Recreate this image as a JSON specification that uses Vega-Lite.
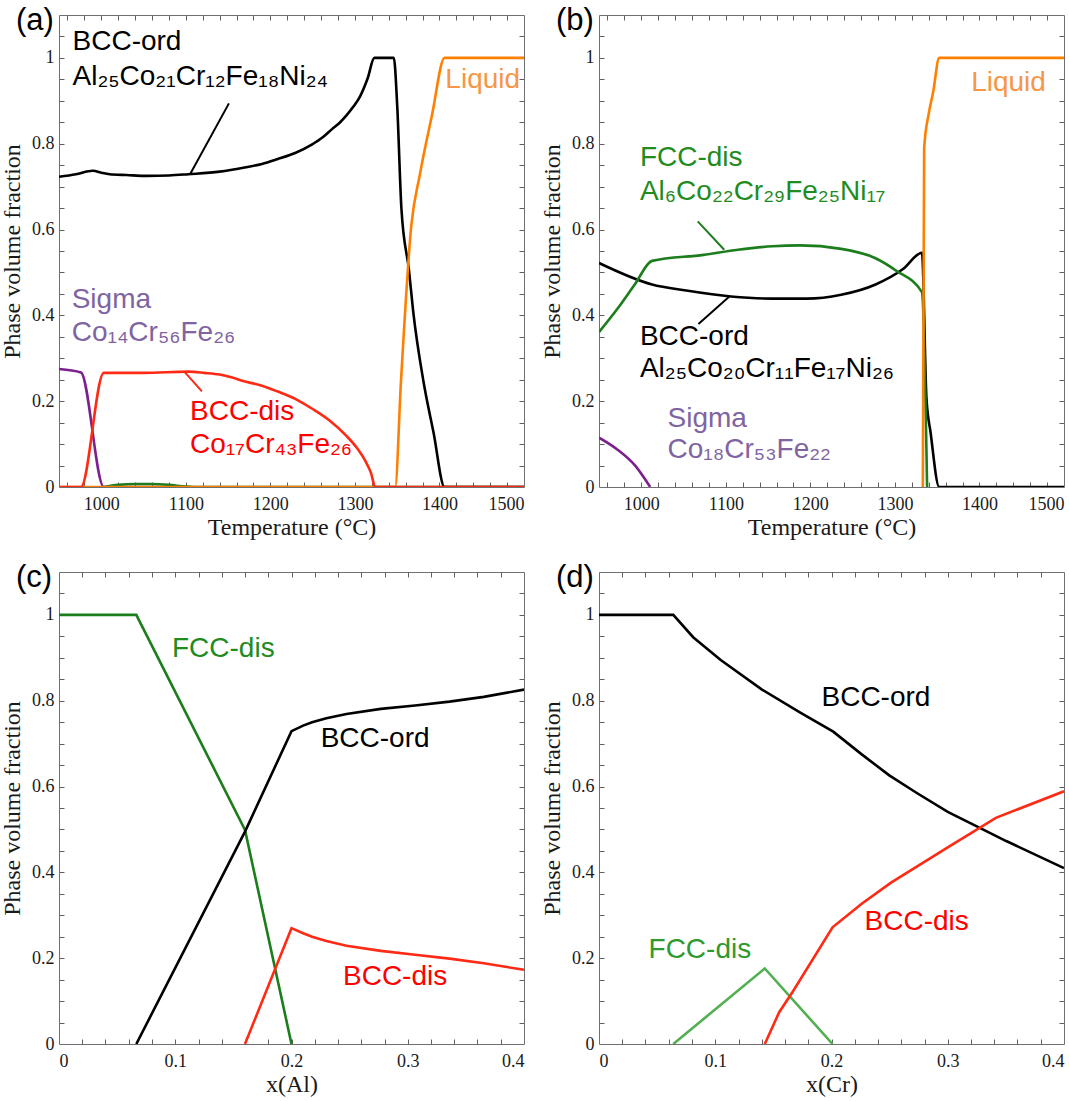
{
  "$schema": "https://vega.github.io/schema/vega-lite/v6.json",
  "background": "white",
  "padding": {"left": 0, "top": 4, "right": 0, "bottom": 0},
  "columns": 2,
  "spacing": {"row": 85, "column": 75},
  "bounds": "flush",
  "resolve": {"scale": {"color": "independent", "fill": "independent"}},
  "config": {
    "view": {"stroke": "#707070", "strokeWidth": 1},
    "axis": {"grid": false, "domain": false, "ticks": false, "tickColor": "#606060", "tickWidth": 1, "tickSize": 5,
      "labelFont": "Liberation Serif", "labelFontSize": 18, "labelColor": "#1a1a1a",
      "titleFont": "Liberation Serif", "titleFontSize": 24, "titleFontWeight": "normal", "titleColor": "#1a1a1a"},
    "axisBottom": {"labelPadding": 8, "titlePadding": 2},
    "axisLeft": {"labelPadding": 5, "titlePadding": 7},
    "title": {"font": "Liberation Sans", "fontSize": 31, "fontWeight": "normal", "anchor": "start", "frame": "group", "color": "#000000", "baseline": "alphabetic", "offset": -22, "dx": -43}
  },
  "datasets": {
    "a_lines": [
      {"phase": "Sigma", "x": 950, "v": 0.275}, {"phase": "Sigma", "x": 976, "v": 0.267}, {"phase": "Sigma", "x": 1003, "v": 0}, {"phase": "Sigma", "x": 1100, "v": 0},
      {"phase": "FCC-dis", "x": 1003, "v": 0}, {"phase": "FCC-dis", "x": 1020, "v": 0.005}, {"phase": "FCC-dis", "x": 1040, "v": 0.007}, {"phase": "FCC-dis", "x": 1060, "v": 0.007}, {"phase": "FCC-dis", "x": 1080, "v": 0.005}, {"phase": "FCC-dis", "x": 1100, "v": 0.001}, {"phase": "FCC-dis", "x": 1110, "v": 0}, {"phase": "FCC-dis", "x": 1500, "v": 0},
      {"phase": "BCC-ord", "x": 950, "v": 0.723}, {"phase": "BCC-ord", "x": 970, "v": 0.729}, {"phase": "BCC-ord", "x": 990, "v": 0.737}, {"phase": "BCC-ord", "x": 1001, "v": 0.732}, {"phase": "BCC-ord", "x": 1010, "v": 0.729}, {"phase": "BCC-ord", "x": 1030, "v": 0.727}, {"phase": "BCC-ord", "x": 1054, "v": 0.725}, {"phase": "BCC-ord", "x": 1080, "v": 0.726}, {"phase": "BCC-ord", "x": 1103, "v": 0.729}, {"phase": "BCC-ord", "x": 1140, "v": 0.735}, {"phase": "BCC-ord", "x": 1168, "v": 0.744}, {"phase": "BCC-ord", "x": 1190, "v": 0.753}, {"phase": "BCC-ord", "x": 1208, "v": 0.764}, {"phase": "BCC-ord", "x": 1230, "v": 0.779}, {"phase": "BCC-ord", "x": 1249, "v": 0.798}, {"phase": "BCC-ord", "x": 1262, "v": 0.815}, {"phase": "BCC-ord", "x": 1273, "v": 0.834}, {"phase": "BCC-ord", "x": 1282, "v": 0.849}, {"phase": "BCC-ord", "x": 1290, "v": 0.866}, {"phase": "BCC-ord", "x": 1298, "v": 0.886}, {"phase": "BCC-ord", "x": 1306, "v": 0.91}, {"phase": "BCC-ord", "x": 1315, "v": 0.952}, {"phase": "BCC-ord", "x": 1323, "v": 1.0}, {"phase": "BCC-ord", "x": 1346, "v": 1.0}, {"phase": "BCC-ord", "x": 1350, "v": 0.89}, {"phase": "BCC-ord", "x": 1355, "v": 0.649}, {"phase": "BCC-ord", "x": 1364, "v": 0.504}, {"phase": "BCC-ord", "x": 1369, "v": 0.408}, {"phase": "BCC-ord", "x": 1381, "v": 0.247}, {"phase": "BCC-ord", "x": 1393, "v": 0.127}, {"phase": "BCC-ord", "x": 1406, "v": 0}, {"phase": "BCC-ord", "x": 1500, "v": 0},
      {"phase": "Liquid", "x": 950, "v": 0}, {"phase": "Liquid", "x": 1347.6, "v": 0}, {"phase": "Liquid", "x": 1354.5, "v": 0.247}, {"phase": "Liquid", "x": 1366.7, "v": 0.609}, {"phase": "Liquid", "x": 1376.9, "v": 0.729}, {"phase": "Liquid", "x": 1391.1, "v": 0.866}, {"phase": "Liquid", "x": 1406.1, "v": 1.0}, {"phase": "Liquid", "x": 1500, "v": 1.0},
      {"phase": "BCC-dis", "x": 950, "v": 0}, {"phase": "BCC-dis", "x": 976, "v": 0}, {"phase": "BCC-dis", "x": 1003, "v": 0.266}, {"phase": "BCC-dis", "x": 1050, "v": 0.266}, {"phase": "BCC-dis", "x": 1103, "v": 0.269}, {"phase": "BCC-dis", "x": 1122, "v": 0.266}, {"phase": "BCC-dis", "x": 1140, "v": 0.262}, {"phase": "BCC-dis", "x": 1155, "v": 0.255}, {"phase": "BCC-dis", "x": 1168, "v": 0.247}, {"phase": "BCC-dis", "x": 1190, "v": 0.236}, {"phase": "BCC-dis", "x": 1208, "v": 0.223}, {"phase": "BCC-dis", "x": 1230, "v": 0.205}, {"phase": "BCC-dis", "x": 1249, "v": 0.183}, {"phase": "BCC-dis", "x": 1270, "v": 0.155}, {"phase": "BCC-dis", "x": 1290, "v": 0.119}, {"phase": "BCC-dis", "x": 1302, "v": 0.092}, {"phase": "BCC-dis", "x": 1312, "v": 0.062}, {"phase": "BCC-dis", "x": 1319, "v": 0.033}, {"phase": "BCC-dis", "x": 1324, "v": 0}, {"phase": "BCC-dis", "x": 1500, "v": 0}
    ],
    "a_text": [
      {"phase": "BCC-ord", "x": 966, "v": 1.018, "label": "BCC-ord"},
      {"phase": "BCC-ord", "x": 966, "v": 0.938, "label": "Al₂₅Co₂₁Cr₁₂Fe₁₈Ni₂₄"},
      {"phase": "Liquid", "x": 1407, "v": 0.93, "label": "Liquid"},
      {"phase": "Sigma", "x": 965, "v": 0.416, "label": "Sigma"},
      {"phase": "Sigma", "x": 965, "v": 0.34, "label": "Co₁₄Cr₅₆Fe₂₆"},
      {"phase": "BCC-dis", "x": 1105, "v": 0.155, "label": "BCC-dis"},
      {"phase": "BCC-dis", "x": 1105, "v": 0.079, "label": "Co₁₇Cr₄₃Fe₂₆"}
    ],
    "a_lead": [
      {"phase": "BCC-ord", "x": 1105, "v": 0.729, "x2": 1151, "v2": 0.894},
      {"phase": "BCC-dis", "x": 1099, "v": 0.267, "x2": 1119, "v2": 0.223}
    ],
    "b_lines": [
      {"phase": "Sigma", "x": 950, "v": 0.115}, {"phase": "Sigma", "x": 972, "v": 0.087}, {"phase": "Sigma", "x": 992.3, "v": 0.051}, {"phase": "Sigma", "x": 1010.6, "v": 0},
      {"phase": "BCC-ord", "x": 950, "v": 0.522}, {"phase": "BCC-ord", "x": 1012.7, "v": 0.472}, {"phase": "BCC-ord", "x": 1053.3, "v": 0.458}, {"phase": "BCC-ord", "x": 1106.2, "v": 0.444}, {"phase": "BCC-ord", "x": 1155, "v": 0.439}, {"phase": "BCC-ord", "x": 1195.7, "v": 0.439}, {"phase": "BCC-ord", "x": 1236.4, "v": 0.448}, {"phase": "BCC-ord", "x": 1277.1, "v": 0.472}, {"phase": "BCC-ord", "x": 1309.6, "v": 0.508}, {"phase": "BCC-ord", "x": 1332, "v": 0.546}, {"phase": "BCC-ord", "x": 1337.3, "v": 0.207}, {"phase": "BCC-ord", "x": 1342.2, "v": 0.127}, {"phase": "BCC-ord", "x": 1352.4, "v": 0}, {"phase": "BCC-ord", "x": 1500, "v": 0},
      {"phase": "FCC-dis", "x": 950, "v": 0.361}, {"phase": "FCC-dis", "x": 972, "v": 0.416}, {"phase": "FCC-dis", "x": 992.3, "v": 0.472}, {"phase": "FCC-dis", "x": 1012.7, "v": 0.527}, {"phase": "FCC-dis", "x": 1073.7, "v": 0.541}, {"phase": "FCC-dis", "x": 1114.4, "v": 0.553}, {"phase": "FCC-dis", "x": 1155, "v": 0.561}, {"phase": "FCC-dis", "x": 1187.6, "v": 0.563}, {"phase": "FCC-dis", "x": 1236.4, "v": 0.555}, {"phase": "FCC-dis", "x": 1277.1, "v": 0.533}, {"phase": "FCC-dis", "x": 1301.5, "v": 0.504}, {"phase": "FCC-dis", "x": 1332, "v": 0.454}, {"phase": "FCC-dis", "x": 1338.1, "v": 0},
      {"phase": "Liquid", "x": 1333, "v": 0}, {"phase": "Liquid", "x": 1334.6, "v": 0.79}, {"phase": "Liquid", "x": 1340, "v": 0.87}, {"phase": "Liquid", "x": 1345.2, "v": 0.92}, {"phase": "Liquid", "x": 1352.4, "v": 1.0}, {"phase": "Liquid", "x": 1500, "v": 1.0}
    ],
    "b_text": [
      {"phase": "FCC-dis", "x": 998.4, "v": 0.747, "label": "FCC-dis"},
      {"phase": "FCC-dis", "x": 998.4, "v": 0.669, "label": "Al₆Co₂₂Cr₂₉Fe₂₅Ni₁₇"},
      {"phase": "BCC-ord", "x": 998.4, "v": 0.332, "label": "BCC-ord"},
      {"phase": "BCC-ord", "x": 998.4, "v": 0.257, "label": "Al₂₅Co₂₀Cr₁₁Fe₁₇Ni₂₆"},
      {"phase": "Sigma", "x": 1031, "v": 0.139, "label": "Sigma"},
      {"phase": "Sigma", "x": 1031, "v": 0.067, "label": "Co₁₈Cr₅₃Fe₂₂"},
      {"phase": "Liquid", "x": 1390.2, "v": 0.922, "label": "Liquid"}
    ],
    "b_lead": [
      {"phase": "FCC-dis", "x": 1066.8, "v": 0.619, "x2": 1098.1, "v2": 0.553},
      {"phase": "BCC-ord", "x": 1104.2, "v": 0.444, "x2": 1067.6, "v2": 0.38}
    ],
    "c_lines": [
      {"phase": "FCC-dis", "x": 0, "v": 1}, {"phase": "FCC-dis", "x": 0.0665, "v": 1}, {"phase": "FCC-dis", "x": 0.16, "v": 0.499}, {"phase": "FCC-dis", "x": 0.2, "v": 0},
      {"phase": "BCC-ord", "x": 0.0665, "v": 0}, {"phase": "BCC-ord", "x": 0.16, "v": 0.495}, {"phase": "BCC-ord", "x": 0.2, "v": 0.729}, {"phase": "BCC-ord", "x": 0.21, "v": 0.742}, {"phase": "BCC-ord", "x": 0.2177, "v": 0.75}, {"phase": "BCC-ord", "x": 0.23, "v": 0.759}, {"phase": "BCC-ord", "x": 0.2473, "v": 0.769}, {"phase": "BCC-ord", "x": 0.2768, "v": 0.781}, {"phase": "BCC-ord", "x": 0.3063, "v": 0.789}, {"phase": "BCC-ord", "x": 0.3359, "v": 0.798}, {"phase": "BCC-ord", "x": 0.3654, "v": 0.809}, {"phase": "BCC-ord", "x": 0.4, "v": 0.826},
      {"phase": "BCC-dis", "x": 0.16, "v": 0}, {"phase": "BCC-dis", "x": 0.2, "v": 0.27}, {"phase": "BCC-dis", "x": 0.21, "v": 0.258}, {"phase": "BCC-dis", "x": 0.2177, "v": 0.25}, {"phase": "BCC-dis", "x": 0.23, "v": 0.24}, {"phase": "BCC-dis", "x": 0.2473, "v": 0.229}, {"phase": "BCC-dis", "x": 0.2768, "v": 0.217}, {"phase": "BCC-dis", "x": 0.3063, "v": 0.208}, {"phase": "BCC-dis", "x": 0.3359, "v": 0.199}, {"phase": "BCC-dis", "x": 0.3654, "v": 0.188}, {"phase": "BCC-dis", "x": 0.4, "v": 0.173}
    ],
    "c_text": [
      {"phase": "FCC-dis", "x": 0.0972, "v": 0.903, "label": "FCC-dis"},
      {"phase": "BCC-ord", "x": 0.2251, "v": 0.691, "label": "BCC-ord"},
      {"phase": "BCC-dis", "x": 0.2443, "v": 0.137, "label": "BCC-dis"}
    ],
    "d_lines": [
      {"phase": "FCC-dis", "x": 0.0639, "v": 0}, {"phase": "FCC-dis", "x": 0.1426, "v": 0.176}, {"phase": "FCC-dis", "x": 0.2009, "v": 0},
      {"phase": "BCC-ord", "x": 0, "v": 1}, {"phase": "BCC-ord", "x": 0.0639, "v": 1}, {"phase": "BCC-ord", "x": 0.081, "v": 0.948}, {"phase": "BCC-ord", "x": 0.1047, "v": 0.895}, {"phase": "BCC-ord", "x": 0.1402, "v": 0.826}, {"phase": "BCC-ord", "x": 0.1728, "v": 0.773}, {"phase": "BCC-ord", "x": 0.2015, "v": 0.728}, {"phase": "BCC-ord", "x": 0.226, "v": 0.675}, {"phase": "BCC-ord", "x": 0.2497, "v": 0.626}, {"phase": "BCC-ord", "x": 0.2734, "v": 0.585}, {"phase": "BCC-ord", "x": 0.3, "v": 0.541}, {"phase": "BCC-ord", "x": 0.331, "v": 0.499}, {"phase": "BCC-ord", "x": 0.3503, "v": 0.473}, {"phase": "BCC-ord", "x": 0.4, "v": 0.41},
      {"phase": "BCC-dis", "x": 0.1426, "v": 0}, {"phase": "BCC-dis", "x": 0.155, "v": 0.074}, {"phase": "BCC-dis", "x": 0.1669, "v": 0.123}, {"phase": "BCC-dis", "x": 0.2009, "v": 0.272}, {"phase": "BCC-dis", "x": 0.226, "v": 0.327}, {"phase": "BCC-dis", "x": 0.2512, "v": 0.376}, {"phase": "BCC-dis", "x": 0.3, "v": 0.458}, {"phase": "BCC-dis", "x": 0.3414, "v": 0.527}, {"phase": "BCC-dis", "x": 0.4, "v": 0.589}
    ],
    "d_text": [
      {"phase": "BCC-ord", "x": 0.1914, "v": 0.787, "label": "BCC-ord"},
      {"phase": "BCC-dis", "x": 0.2284, "v": 0.266, "label": "BCC-dis"},
      {"phase": "FCC-dis", "x": 0.0426, "v": 0.2, "label": "FCC-dis"}
    ]
  },
  "concat": [
    {
      "title": {"text": "(a)"},
      "width": 465, "height": 472,
      "resolve": {"axis": {"x": "independent", "y": "independent"}},
      "layer": [
        {
          "data": {"name": "a_lines"},
          "mark": {"type": "line", "strokeWidth": 2.6, "clip": true, "interpolate": "monotone"},
          "encoding": {
            "x": {"field": "x", "type": "quantitative", "scale": {"domain": [950, 1500], "nice": false, "zero": false},
              "axis": {"orient": "bottom", "title": "Temperature (°C)", "labelFlush": true, "values": [1000, 1100, 1200, 1300, 1400, 1500], "format": "d"}},
            "y": {"field": "v", "type": "quantitative", "scale": {"domain": [0, 1.1], "nice": false},
              "axis": {"orient": "left", "title": "Phase volume fraction", "values": [0, 0.2, 0.4, 0.6, 0.8, 1], "format": "~g"}},
            "color": {"field": "phase", "type": "nominal", "sort": null, "scale": {"domain": ["Sigma", "FCC-dis", "BCC-ord", "Liquid", "BCC-dis"], "range": ["#7d1f8e", "#1b7d1b", "#000000", "#ff8000", "#ff2a14"]}, "legend": null}
          }
        },
        {
          "data": {"name": "a_lead"},
          "mark": {"type": "rule", "strokeWidth": 2},
          "encoding": {
            "x": {"field": "x", "type": "quantitative", "axis": null}, "y": {"field": "v", "type": "quantitative", "axis": null},
            "x2": {"field": "x2"}, "y2": {"field": "v2"},
            "color": {"field": "phase", "type": "nominal", "legend": null}
          }
        },
        {
          "data": {"name": "a_text"},
          "mark": {"type": "text", "align": "left", "baseline": "alphabetic", "font": "Liberation Sans", "fontSize": 28},
          "encoding": {
            "x": {"field": "x", "type": "quantitative", "axis": null}, "y": {"field": "v", "type": "quantitative", "axis": null},
            "text": {"field": "label"},
            "fill": {"field": "phase", "type": "nominal", "scale": {"domain": ["BCC-ord", "Liquid", "Sigma", "BCC-dis"], "range": ["#000000", "#f79646", "#8064a2", "#ff0000"]}, "legend": null}
          }
        },
        {
          "data": {"name": "a_lines"},
          "mark": {"type": "point", "opacity": 0},
          "encoding": {
            "x": {"field": "x", "type": "quantitative", "axis": {"orient": "top", "offset": -472, "ticks": true, "labels": false, "title": null, "values": [960, 980, 1000, 1020, 1040, 1060, 1080, 1100, 1120, 1140, 1160, 1180, 1200, 1220, 1240, 1260, 1280, 1300, 1320, 1340, 1360, 1380, 1400, 1420, 1440, 1460, 1480]}},
            "y": {"field": "v", "type": "quantitative", "axis": {"orient": "right", "offset": -465, "ticks": true, "labels": false, "title": null, "values": [0.05, 0.1, 0.15, 0.2, 0.25, 0.3, 0.35, 0.4, 0.45, 0.5, 0.55, 0.6, 0.65, 0.7, 0.75, 0.8, 0.85, 0.9, 0.95, 1, 1.05]}}
          }
        },
        {
          "data": {"name": "a_lines"},
          "mark": {"type": "point", "opacity": 0},
          "encoding": {
            "x": {"field": "x", "type": "quantitative", "axis": {"orient": "bottom", "offset": -472, "ticks": true, "labels": false, "title": null, "values": [960, 980, 1000, 1020, 1040, 1060, 1080, 1100, 1120, 1140, 1160, 1180, 1200, 1220, 1240, 1260, 1280, 1300, 1320, 1340, 1360, 1380, 1400, 1420, 1440, 1460, 1480]}},
            "y": {"field": "v", "type": "quantitative", "axis": {"orient": "left", "offset": -465, "ticks": true, "labels": false, "title": null, "values": [0.05, 0.1, 0.15, 0.2, 0.25, 0.3, 0.35, 0.4, 0.45, 0.5, 0.55, 0.6, 0.65, 0.7, 0.75, 0.8, 0.85, 0.9, 0.95, 1, 1.05]}}
          }
        }
      ]
    },
    {
      "title": {"text": "(b)"},
      "width": 465, "height": 472,
      "resolve": {"axis": {"x": "independent", "y": "independent"}},
      "layer": [
        {
          "data": {"name": "b_lines"},
          "mark": {"type": "line", "strokeWidth": 2.6, "clip": true, "interpolate": "monotone"},
          "encoding": {
            "x": {"field": "x", "type": "quantitative", "scale": {"domain": [950, 1500], "nice": false, "zero": false},
              "axis": {"orient": "bottom", "title": "Temperature (°C)", "labelFlush": true, "values": [1000, 1100, 1200, 1300, 1400, 1500], "format": "d"}},
            "y": {"field": "v", "type": "quantitative", "scale": {"domain": [0, 1.1], "nice": false},
              "axis": {"orient": "left", "title": "Phase volume fraction", "values": [0, 0.2, 0.4, 0.6, 0.8, 1], "format": "~g"}},
            "color": {"field": "phase", "type": "nominal", "sort": null, "scale": {"domain": ["Sigma", "BCC-ord", "FCC-dis", "Liquid"], "range": ["#7d1f8e", "#000000", "#1b7d1b", "#ff8000"]}, "legend": null}
          }
        },
        {
          "data": {"name": "b_lead"},
          "mark": {"type": "rule", "strokeWidth": 2},
          "encoding": {
            "x": {"field": "x", "type": "quantitative", "axis": null}, "y": {"field": "v", "type": "quantitative", "axis": null},
            "x2": {"field": "x2"}, "y2": {"field": "v2"},
            "color": {"field": "phase", "type": "nominal", "legend": null}
          }
        },
        {
          "data": {"name": "b_text"},
          "mark": {"type": "text", "align": "left", "baseline": "alphabetic", "font": "Liberation Sans", "fontSize": 28},
          "encoding": {
            "x": {"field": "x", "type": "quantitative", "axis": null}, "y": {"field": "v", "type": "quantitative", "axis": null},
            "text": {"field": "label"},
            "fill": {"field": "phase", "type": "nominal", "scale": {"domain": ["FCC-dis", "BCC-ord", "Sigma", "Liquid"], "range": ["#1e8c1e", "#000000", "#8064a2", "#f79646"]}, "legend": null}
          }
        },
        {
          "data": {"name": "b_lines"},
          "mark": {"type": "point", "opacity": 0},
          "encoding": {
            "x": {"field": "x", "type": "quantitative", "axis": {"orient": "top", "offset": -472, "ticks": true, "labels": false, "title": null, "values": [960, 980, 1000, 1020, 1040, 1060, 1080, 1100, 1120, 1140, 1160, 1180, 1200, 1220, 1240, 1260, 1280, 1300, 1320, 1340, 1360, 1380, 1400, 1420, 1440, 1460, 1480]}},
            "y": {"field": "v", "type": "quantitative", "axis": {"orient": "right", "offset": -465, "ticks": true, "labels": false, "title": null, "values": [0.05, 0.1, 0.15, 0.2, 0.25, 0.3, 0.35, 0.4, 0.45, 0.5, 0.55, 0.6, 0.65, 0.7, 0.75, 0.8, 0.85, 0.9, 0.95, 1, 1.05]}}
          }
        },
        {
          "data": {"name": "b_lines"},
          "mark": {"type": "point", "opacity": 0},
          "encoding": {
            "x": {"field": "x", "type": "quantitative", "axis": {"orient": "bottom", "offset": -472, "ticks": true, "labels": false, "title": null, "values": [960, 980, 1000, 1020, 1040, 1060, 1080, 1100, 1120, 1140, 1160, 1180, 1200, 1220, 1240, 1260, 1280, 1300, 1320, 1340, 1360, 1380, 1400, 1420, 1440, 1460, 1480]}},
            "y": {"field": "v", "type": "quantitative", "axis": {"orient": "left", "offset": -465, "ticks": true, "labels": false, "title": null, "values": [0.05, 0.1, 0.15, 0.2, 0.25, 0.3, 0.35, 0.4, 0.45, 0.5, 0.55, 0.6, 0.65, 0.7, 0.75, 0.8, 0.85, 0.9, 0.95, 1, 1.05]}}
          }
        }
      ]
    },
    {
      "title": {"text": "(c)"},
      "width": 465, "height": 472,
      "resolve": {"axis": {"x": "independent", "y": "independent"}},
      "layer": [
        {
          "data": {"name": "c_lines"},
          "mark": {"type": "line", "strokeWidth": 2.6, "clip": true},
          "encoding": {
            "x": {"field": "x", "type": "quantitative", "scale": {"domain": [0, 0.4], "nice": false},
              "axis": {"orient": "bottom", "title": "x(Al)", "values": [0, 0.1, 0.2, 0.3, 0.4], "format": "~g"}},
            "y": {"field": "v", "type": "quantitative", "scale": {"domain": [0, 1.1], "nice": false},
              "axis": {"orient": "left", "title": "Phase volume fraction", "values": [0, 0.2, 0.4, 0.6, 0.8, 1], "format": "~g"}},
            "color": {"field": "phase", "type": "nominal", "sort": null, "scale": {"domain": ["FCC-dis", "BCC-ord", "BCC-dis"], "range": ["#1b7d1b", "#000000", "#ff2a14"]}, "legend": null}
          }
        },
        {
          "data": {"name": "c_text"},
          "mark": {"type": "text", "align": "left", "baseline": "alphabetic", "font": "Liberation Sans", "fontSize": 28},
          "encoding": {
            "x": {"field": "x", "type": "quantitative", "axis": null}, "y": {"field": "v", "type": "quantitative", "axis": null},
            "text": {"field": "label"},
            "fill": {"field": "phase", "type": "nominal", "scale": {"domain": ["FCC-dis", "BCC-ord", "BCC-dis"], "range": ["#1e8c1e", "#000000", "#ff0000"]}, "legend": null}
          }
        },
        {
          "data": {"name": "c_lines"},
          "mark": {"type": "point", "opacity": 0},
          "encoding": {
            "x": {"field": "x", "type": "quantitative", "axis": {"orient": "top", "offset": -472, "ticks": true, "labels": false, "title": null, "values": [0.02, 0.04, 0.06, 0.08, 0.1, 0.12, 0.14, 0.16, 0.18, 0.2, 0.22, 0.24, 0.26, 0.28, 0.3, 0.32, 0.34, 0.36, 0.38]}},
            "y": {"field": "v", "type": "quantitative", "axis": {"orient": "right", "offset": -465, "ticks": true, "labels": false, "title": null, "values": [0.05, 0.1, 0.15, 0.2, 0.25, 0.3, 0.35, 0.4, 0.45, 0.5, 0.55, 0.6, 0.65, 0.7, 0.75, 0.8, 0.85, 0.9, 0.95, 1, 1.05]}}
          }
        },
        {
          "data": {"name": "c_lines"},
          "mark": {"type": "point", "opacity": 0},
          "encoding": {
            "x": {"field": "x", "type": "quantitative", "axis": {"orient": "bottom", "offset": -472, "ticks": true, "labels": false, "title": null, "values": [0.02, 0.04, 0.06, 0.08, 0.1, 0.12, 0.14, 0.16, 0.18, 0.2, 0.22, 0.24, 0.26, 0.28, 0.3, 0.32, 0.34, 0.36, 0.38]}},
            "y": {"field": "v", "type": "quantitative", "axis": {"orient": "left", "offset": -465, "ticks": true, "labels": false, "title": null, "values": [0.05, 0.1, 0.15, 0.2, 0.25, 0.3, 0.35, 0.4, 0.45, 0.5, 0.55, 0.6, 0.65, 0.7, 0.75, 0.8, 0.85, 0.9, 0.95, 1, 1.05]}}
          }
        }
      ]
    },
    {
      "title": {"text": "(d)"},
      "width": 465, "height": 472,
      "resolve": {"axis": {"x": "independent", "y": "independent"}},
      "layer": [
        {
          "data": {"name": "d_lines"},
          "mark": {"type": "line", "strokeWidth": 2.6, "clip": true},
          "encoding": {
            "x": {"field": "x", "type": "quantitative", "scale": {"domain": [0, 0.4], "nice": false},
              "axis": {"orient": "bottom", "title": "x(Cr)", "values": [0, 0.1, 0.2, 0.3, 0.4], "format": "~g"}},
            "y": {"field": "v", "type": "quantitative", "scale": {"domain": [0, 1.1], "nice": false},
              "axis": {"orient": "left", "title": "Phase volume fraction", "values": [0, 0.2, 0.4, 0.6, 0.8, 1], "format": "~g"}},
            "color": {"field": "phase", "type": "nominal", "sort": null, "scale": {"domain": ["FCC-dis", "BCC-ord", "BCC-dis"], "range": ["#52b052", "#000000", "#ff2a14"]}, "legend": null}
          }
        },
        {
          "data": {"name": "d_text"},
          "mark": {"type": "text", "align": "left", "baseline": "alphabetic", "font": "Liberation Sans", "fontSize": 28},
          "encoding": {
            "x": {"field": "x", "type": "quantitative", "axis": null}, "y": {"field": "v", "type": "quantitative", "axis": null},
            "text": {"field": "label"},
            "fill": {"field": "phase", "type": "nominal", "scale": {"domain": ["FCC-dis", "BCC-ord", "BCC-dis"], "range": ["#2e9a2e", "#000000", "#ff0000"]}, "legend": null}
          }
        },
        {
          "data": {"name": "d_lines"},
          "mark": {"type": "point", "opacity": 0},
          "encoding": {
            "x": {"field": "x", "type": "quantitative", "axis": {"orient": "top", "offset": -472, "ticks": true, "labels": false, "title": null, "values": [0.02, 0.04, 0.06, 0.08, 0.1, 0.12, 0.14, 0.16, 0.18, 0.2, 0.22, 0.24, 0.26, 0.28, 0.3, 0.32, 0.34, 0.36, 0.38]}},
            "y": {"field": "v", "type": "quantitative", "axis": {"orient": "right", "offset": -465, "ticks": true, "labels": false, "title": null, "values": [0.05, 0.1, 0.15, 0.2, 0.25, 0.3, 0.35, 0.4, 0.45, 0.5, 0.55, 0.6, 0.65, 0.7, 0.75, 0.8, 0.85, 0.9, 0.95, 1, 1.05]}}
          }
        },
        {
          "data": {"name": "d_lines"},
          "mark": {"type": "point", "opacity": 0},
          "encoding": {
            "x": {"field": "x", "type": "quantitative", "axis": {"orient": "bottom", "offset": -472, "ticks": true, "labels": false, "title": null, "values": [0.02, 0.04, 0.06, 0.08, 0.1, 0.12, 0.14, 0.16, 0.18, 0.2, 0.22, 0.24, 0.26, 0.28, 0.3, 0.32, 0.34, 0.36, 0.38]}},
            "y": {"field": "v", "type": "quantitative", "axis": {"orient": "left", "offset": -465, "ticks": true, "labels": false, "title": null, "values": [0.05, 0.1, 0.15, 0.2, 0.25, 0.3, 0.35, 0.4, 0.45, 0.5, 0.55, 0.6, 0.65, 0.7, 0.75, 0.8, 0.85, 0.9, 0.95, 1, 1.05]}}
          }
        }
      ]
    }
  ]
}
